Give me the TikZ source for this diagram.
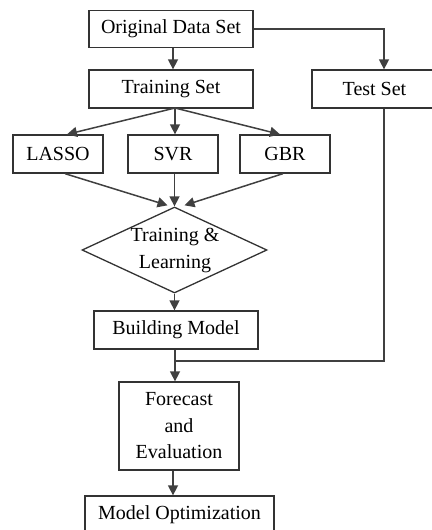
\documentclass[tikz,border=0pt]{standalone}
\usepackage{fontspec}
\setmainfont{Liberation Serif}
\usetikzlibrary{shapes.geometric,arrows.meta,calc}
\begin{document}
\begin{tikzpicture}[x=1pt,y=-1pt,
  box/.style={draw=black!80, line width=1.3pt, rectangle, inner sep=0pt,
    font=\fontsize{20}{26.5}\selectfont, align=center},
  link/.style={draw=black!75, line width=1.5pt},
  arrow/.style={link, -{Triangle[length=10pt,width=10pt]}}]
\useasboundingbox (0,0) rectangle (431,530);

% process boxes
\node[box, minimum width=164pt, minimum height=37pt] (orig)  at (171,29) {Original Data Set};
\node[box, minimum width=164pt, minimum height=38pt] (train) at (171,89) {Training Set};
\node[box, minimum width=125pt, minimum height=38pt] (test)  at (374.5,89) {Test Set};
\node[box, minimum width=90pt, minimum height=38pt] (lasso) at (58,154) {LASSO};
\node[box, minimum width=90pt, minimum height=38pt] (svr)   at (173,154) {SVR};
\node[box, minimum width=90pt, minimum height=38pt] (gbr)   at (285,154) {GBR};

% decision diamond and its text
\node[draw=black!80, line width=1.3pt, diamond, inner sep=0pt,
      minimum width=185pt, minimum height=86pt] (tl) at (174.5,250) {};
\node[font=\fontsize{20}{27}\selectfont, align=center, inner sep=0pt] (tltext) at (175,251) {Training \&\\Learning};

\node[box, minimum width=164pt, minimum height=38pt] (build) at (176,330) {Building Model};
\node[box, minimum width=120pt, minimum height=88pt] (fore)  at (179,426) {Forecast\\and\\Evaluation};
\node[box, minimum width=189pt, minimum height=38pt] (opt)   at (179.5,515) {Model Optimization};

% helper points
\coordinate (t1) at (384,29);
\coordinate (j1) at (384,361);
\coordinate (j2) at (175,361);
\coordinate (tsplit) at (175,108);

% connectors
\draw[arrow] (orig.south -| 173,0) -- (train.north -| 173,0);
\draw[arrow] (orig.east) -- (t1) -- (test.north -| t1);
\draw[arrow] (tsplit) -- (lasso.north -| 67,0);
\draw[arrow] (tsplit) -- (svr.north -| tsplit);
\draw[arrow] (tsplit) -- (gbr.north -| 280,0);
\draw[arrow] (lasso.south -| 65,0) -- ($(tl.north)+(-7,-1)$);
\draw[arrow] (svr.south -| tl.north) -- (tl.north);
\draw[arrow] (gbr.south -| 283,0) -- ($(tl.north)+(10,-1)$);
\draw[arrow] (tl.south) -- (build.north -| tl.south);
\draw[arrow] (build.south -| j2) -- (fore.north -| j2);
\draw[link] (test.south -| j1) -- (j1) -- (j2);
\draw[arrow] (fore.south -| 173,0) -- (opt.north -| 173,0);
\end{tikzpicture}
\end{document}
